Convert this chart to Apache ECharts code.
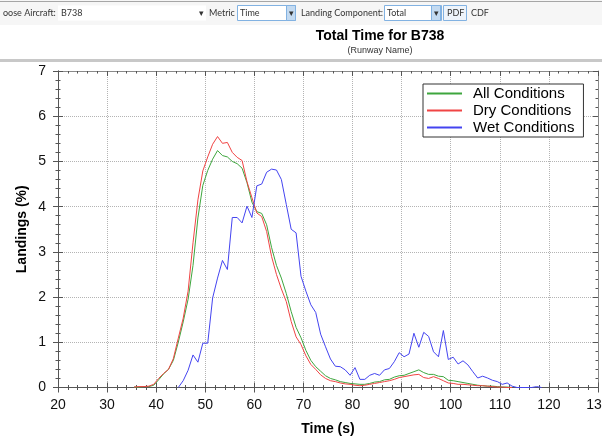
<!DOCTYPE html>
<html>
<head>
<meta charset="utf-8">
<title>Total Time for B738</title>
<script src="https://cdn.jsdelivr.net/npm/echarts@6/dist/echarts.min.js"></script>
<style>
	html, body { margin: 0; padding: 0; background: #fff; }
	#chart { width: 602px; height: 438px; }
</style>
</head>
<body>
<div id="chart"></div>
<script>
// Time bins (s), one per second
let times = [
	35.5, 36.5, 37.5, 38.5, 39.5, 40.5, 41.5, 42.5, 43.5, 44.5,
	45.5, 46.5, 47.5, 48.5, 49.5, 50.5, 51.5, 52.5, 53.5, 54.5,
	55.5, 56.5, 57.5, 58.5, 59.5, 60.5, 61.5, 62.5, 63.5, 64.5,
	65.5, 66.5, 67.5, 68.5, 69.5, 70.5, 71.5, 72.5, 73.5, 74.5,
	75.5, 76.5, 77.5, 78.5, 79.5, 80.5, 81.5, 82.5, 83.5, 84.5,
	85.5, 86.5, 87.5, 88.5, 89.5, 90.5, 91.5, 92.5, 93.5, 94.5,
	95.5, 96.5, 97.5, 98.5, 99.5, 100.5, 101.5, 102.5, 103.5, 104.5,
	105.5, 106.5, 107.5, 108.5, 109.5, 110.5, 111.5, 112.5, 113.5, 114.5,
	115.5, 116.5, 117.5, 118.5
];

// Landings (%)
let allConditions = [
	0.01, 0.01, 0.02, 0.02, 0.05, 0.17, 0.3, 0.4, 0.6, 1.0,
	1.45, 1.95, 2.7, 3.75, 4.47, 4.8, 5.05, 5.24, 5.13, 5.1,
	5.0, 4.95, 4.85, 4.53, 4.1, 3.89, 3.85, 3.6, 3.1, 2.7,
	2.42, 2.08, 1.68, 1.33, 1.1, 0.82, 0.6, 0.46, 0.36, 0.26,
	0.2, 0.17, 0.13, 0.11, 0.09, 0.08, 0.07, 0.07, 0.09, 0.12,
	0.13, 0.17, 0.18, 0.23, 0.26, 0.27, 0.31, 0.35, 0.39, 0.33,
	0.29, 0.29, 0.25, 0.24, 0.16, 0.15, 0.13, 0.11, 0.09, 0.07,
	0.05, 0.04, 0.03, 0.03, 0.02, 0.01, 0.01, 0, null, null,
	null, null, null, null
];

let dryConditions = [
	0.01, 0.02, 0.02, 0.03, 0.07, 0.2, 0.31, 0.4, 0.64, 1.09,
	1.53, 2.13, 3.2, 4.15, 4.79, 5.1, 5.38, 5.55, 5.4, 5.42,
	5.2, 5.09, 5.02, 4.55, 4.2, 3.86, 3.78, 3.45, 2.9, 2.5,
	2.18, 1.9, 1.46, 1.12, 0.95, 0.7, 0.51, 0.4, 0.28, 0.2,
	0.15, 0.13, 0.1, 0.08, 0.07, 0.05, 0.04, 0.05, 0.07, 0.09,
	0.11, 0.13, 0.15, 0.18, 0.22, 0.24, 0.26, 0.28, 0.29, 0.22,
	0.2, 0.24, 0.2, 0.15, 0.1, 0.09, 0.07, 0.07, 0.06, 0.05,
	0.04, 0.04, 0.03, 0.02, 0.01, 0.01, 0, 0, null, null,
	null, null, null, null
];

let wetConditions = [
	null, null, null, null, null, null, null, null, null, 0,
	0.15, 0.38, 0.72, 0.56, 0.98, 0.98, 1.98, 2.42, 2.81, 2.61,
	3.76, 3.76, 3.64, 4.01, 3.76, 4.46, 4.5, 4.76, 4.83, 4.81,
	4.6, 4.05, 3.5, 3.42, 2.46, 2.13, 1.83, 1.66, 1.18, 0.9,
	0.63, 0.47, 0.46, 0.39, 0.27, 0.44, 0.18, 0.18, 0.27, 0.31,
	0.27, 0.39, 0.42, 0.57, 0.77, 0.68, 0.74, 1.2, 0.89, 1.22,
	1.13, 0.79, 0.68, 1.26, 0.62, 0.67, 0.52, 0.59, 0.5, 0.35,
	0.21, 0.25, 0.21, 0.16, 0.13, 0.07, 0.1, 0.03, 0, 0,
	0, 0, 0.02, 0
];

let seriesNames = ['All Conditions', 'Dry Conditions', 'Wet Conditions'];
let seriesColors = ['#3ea63e', '#f04444', '#4444f0'];

function pairs(values) {
	let out = [];
	for (let i = 0; i < times.length; i++) {
		out.push([times[i], values[i]]);
	}
	return out;
}

let fontFamily = '"Liberation Sans", Arial, sans-serif';
let uiFont = 'Lato, sans-serif';
let axisColor = '#555';
let frameColor = '#8a8a8a';

// one axis with ticks pointing out + label, one with ticks pointing in (ticks cross the line),
// plus the mirrored frame axes on top/right
function xAxisDef(position, inside, main) {
	return {
		type: 'value', min: 20, max: 130, interval: 10, position: position,
		name: main ? 'Time (s)' : '', nameLocation: 'middle', nameGap: 35, nameMoveOverlap: false,
		nameTextStyle: { fontFamily: fontFamily, fontSize: 14, fontWeight: 'bold', color: '#000' },
		axisLine: { show: true, onZero: false, lineStyle: { color: main || position == 'bottom' ? axisColor : frameColor } },
		axisTick: { show: true, inside: inside, length: 5, lineStyle: { color: axisColor } },
		minorTick: { show: true, splitNumber: 5, length: 2.5, lineStyle: { color: axisColor } },
		axisLabel: { show: main, margin: 11, fontFamily: fontFamily, fontSize: 14, color: '#111' },
		splitLine: { show: main, lineStyle: { type: 'dotted', color: '#b4b4b4' } }
	};
}

function yAxisDef(position, inside, main) {
	return {
		type: 'value', min: 0, max: 7, interval: 1, position: position,
		name: main ? 'Landings (%)' : '', nameLocation: 'middle', nameGap: 29, nameMoveOverlap: false,
		nameTextStyle: { fontFamily: fontFamily, fontSize: 14, fontWeight: 'bold', color: '#000' },
		axisLine: { show: true, onZero: false, lineStyle: { color: main || position == 'left' ? axisColor : frameColor } },
		axisTick: { show: true, inside: inside, length: 5, lineStyle: { color: axisColor } },
		minorTick: { show: true, splitNumber: 5, length: 2.5, lineStyle: { color: axisColor } },
		axisLabel: { show: main, margin: 12, fontFamily: fontFamily, fontSize: 14, color: '#111' },
		splitLine: { show: main, lineStyle: { type: 'dotted', color: '#b4b4b4' } }
	};
}

// toolbar across the top of the window
function label(text, x) {
	return { type: 'text', x: x, y: 13.5, style: { text: text, font: '9px ' + uiFont, fill: '#333', verticalAlign: 'middle' } };
}
function box(x, w, fill) {
	return { type: 'rect', shape: { x: x, y: 5.5, width: w, height: 15 }, style: { fill: fill, stroke: '#82b2e2', lineWidth: 1 } };
}

let toolbar = [
	{ type: 'rect', shape: { x: 0, y: 0, width: 602, height: 25 }, style: { fill: '#f6f6f6' } },
	{ type: 'rect', shape: { x: 0, y: 1, width: 602, height: 1 }, style: { fill: '#a6a6a6' } },
	{ type: 'rect', shape: { x: 0, y: 59, width: 602, height: 3 }, style: { fill: '#c8c8c8' } },
	{ type: 'rect', shape: { x: 58, y: 5.5, width: 148, height: 15 }, style: { fill: '#fff' } },
	label('oose Aircraft:', 3),
	label('B738', 61),
	label('\u25BE', 199),
	label('Metric', 209),
	box(237.5, 58, '#fff'),
	box(286.5, 9, '#c3daf1'),
	label('Time', 240),
	label('\u25BE', 288.5),
	label('Landing Component:', 301),
	box(384.5, 57, '#fff'),
	box(431.5, 9, '#c3daf1'),
	label('Total', 387),
	label('\u25BE', 433.5),
	box(443.5, 23, '#eef4fb'),
	label('PDF', 447),
	label('CDF', 471)
];

let series = [];
let lineData = [allConditions, dryConditions, wetConditions];
for (let i = 0; i < seriesNames.length; i++) {
	series.push({
		name: seriesNames[i],
		type: 'line',
		xAxisIndex: 0,
		yAxisIndex: 0,
		data: pairs(lineData[i]),
		showSymbol: false,
		symbol: 'none',
		connectNulls: false,
		color: seriesColors[i],
		lineStyle: { width: 1, color: seriesColors[i] }
	});
}

let chart = echarts.init(document.getElementById('chart'), null, { renderer: 'canvas' });
chart.setOption({
	animation: false,
	backgroundColor: '#fff',
	title: {
		text: 'Total Time for B738',
		subtext: '(Runway Name)',
		left: 380, top: 29, textAlign: 'center', padding: 0, itemGap: 3,
		textStyle: { fontFamily: fontFamily, fontSize: 14, fontWeight: 'bold', color: '#000' },
		subtextStyle: { fontFamily: fontFamily, fontSize: 9, color: '#333' }
	},
	legend: {
		data: seriesNames,
		orient: 'vertical',
		left: 423, top: 84,
		padding: [2, 9, 2, 4],
		itemGap: 2,
		itemWidth: 35, itemHeight: 2,
		icon: 'rect',
		backgroundColor: '#fff',
		borderColor: '#333', borderWidth: 1,
		textStyle: { fontFamily: fontFamily, fontSize: 15, color: '#000', padding: [0, 0, 0, 6] }
	},
	grid: { left: 58, right: 4, top: 71, bottom: 50.5, containLabel: false, outerBoundsMode: 'none' },
	xAxis: [xAxisDef('bottom', false, true), xAxisDef('bottom', true, false), xAxisDef('top', true, false)],
	yAxis: [yAxisDef('left', false, true), yAxisDef('left', true, false), yAxisDef('right', true, false)],
	graphic: toolbar,
	series: series
});
</script>
</body>
</html>
